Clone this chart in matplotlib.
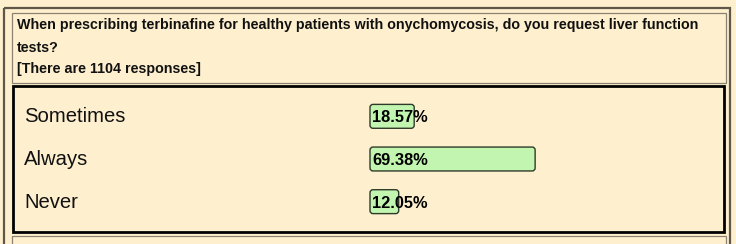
import matplotlib
matplotlib.use("Agg")
import matplotlib.pyplot as plt
from matplotlib.patches import Rectangle, FancyBboxPatch

# ---- data ----
question_lines = [
    "When prescribing terbinafine for healthy patients with onychomycosis, do you request liver function",
    "tests?",
    "[There are 1104 responses]",
]
categories = ["Sometimes", "Always", "Never"]
percentages = [18.57, 69.38, 12.05]
pct_labels = ["18.57%", "69.38%", "12.05%"]

W, H = 736, 244
DPI = 100
BG = "#FEF0CF"
BAR_FILL = "#C2F5B0"
BAR_EDGE = "#2E3A28"

fig = plt.figure(figsize=(W / DPI, H / DPI), dpi=DPI, facecolor=BG)
plt.rcParams['font.family'] = ['Liberation Sans', 'DejaVu Sans']

# overlay axes in pixel coordinates for frames and header text
bg = fig.add_axes([0, 0, 1, 1], zorder=0)
bg.set_xlim(0, W)
bg.set_ylim(H, 0)
bg.axis("off")
bg.set_facecolor(BG)

# outer table border
bg.add_patch(Rectangle((3.5, 7.5), 726, 250, fill=False, edgecolor="#5f574a", lw=1.6))
# header cell
bg.add_patch(Rectangle((11.5, 12.5), 714, 70, fill=False, edgecolor="#8c8272", lw=0.9))
# answer cell (thick black)
bg.add_patch(Rectangle((13, 86), 711, 146, fill=False, edgecolor="#000000", lw=2.0))
# next cell top
bg.add_patch(Rectangle((11.5, 236), 714, 30, fill=False, edgecolor="#8c8272", lw=0.9))

baselines = [29, 51.5, 73]
for line, yb in zip(question_lines, baselines):
    bg.text(17, yb, line, fontsize=10.3, fontweight="bold", color="#111111",
            ha="left", va="baseline")

# bar axes
x0_px, bar_span_px = 370, 238          # 100% -> 238 px
top_px, bot_px = 95, 223
ax = fig.add_axes([x0_px / W, 1 - bot_px / H, bar_span_px / W, (bot_px - top_px) / H],
                  zorder=2)
ax.set_xlim(0, 100)
ax.set_ylim(len(categories) - 0.5, -0.5)
ax.axis("off")
ax.patch.set_alpha(0)

ypos = list(range(len(categories)))
bar_h = 0.56
bars = ax.barh(ypos, percentages, height=bar_h, left=0, color=BAR_FILL,
               edgecolor=BAR_EDGE, lw=1.0)

# round the corners of each bar
x_per_px = 100 / bar_span_px
y_per_px = len(categories) / (bot_px - top_px)
for b in bars:
    x, y = b.get_x(), b.get_y()
    w, h = b.get_width(), b.get_height()
    b.set_visible(False)
    ax.add_patch(FancyBboxPatch((x, y), w, h,
                                boxstyle=f"round,pad=0,rounding_size={3 * x_per_px}",
                                mutation_aspect=y_per_px / x_per_px,
                                facecolor=BAR_FILL, edgecolor=BAR_EDGE, lw=1.0,
                                clip_on=False))

for i, (cat, lab) in enumerate(zip(categories, pct_labels)):
    ax.annotate(cat, xy=(24, i), xycoords=("figure pixels", "data"),
                xytext=(0, -6), textcoords="offset pixels",
                fontsize=14.6, color="#111111", ha="left", va="baseline",
                annotation_clip=False)
    ax.annotate(lab, xy=(372, i), xycoords=("figure pixels", "data"),
                xytext=(0, -6), textcoords="offset pixels",
                fontsize=11.8, fontweight="bold", color="#000000",
                ha="left", va="baseline", annotation_clip=False)

fig.savefig("out.png", dpi=DPI, facecolor=BG)
